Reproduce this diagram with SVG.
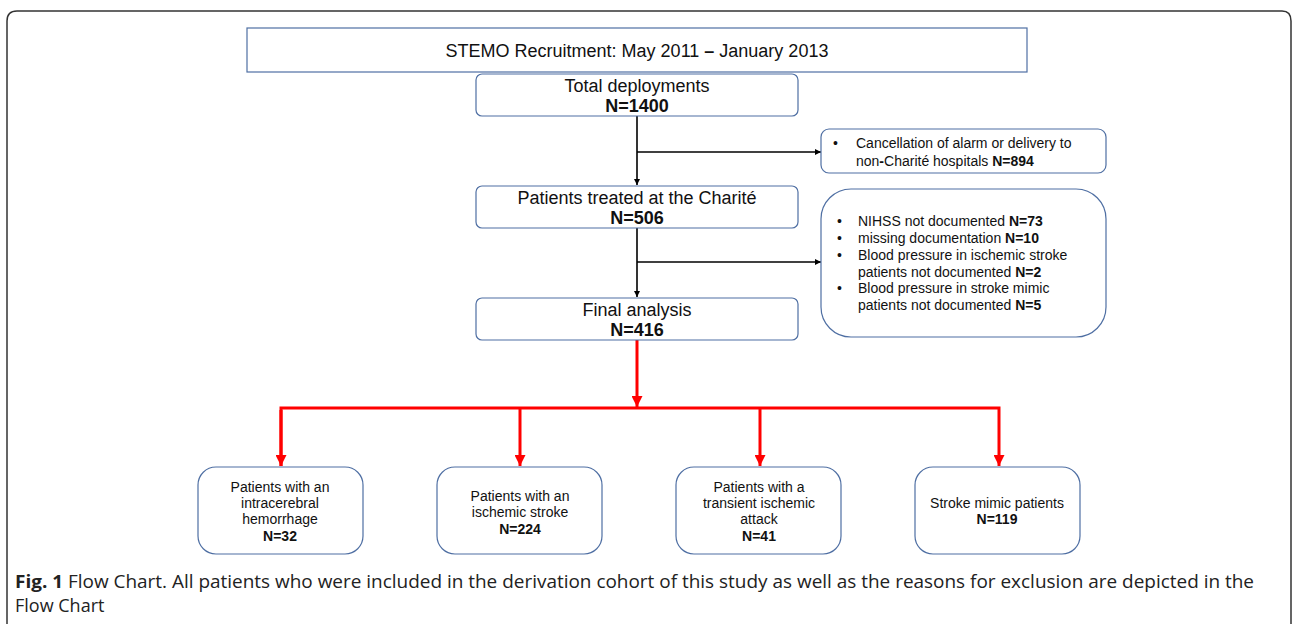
<svg xmlns="http://www.w3.org/2000/svg" width="1292" height="624" viewBox="0 0 1292 624">
<defs>
<style>
.box{fill:#fff;stroke:#4f6fa3;stroke-width:1.2}
.t{font-family:"Liberation Sans",Arial,sans-serif;fill:#111;text-anchor:middle}
.big{font-size:18px}
.sm{font-size:14px}
.b{font-weight:bold}
.lt{text-anchor:start}
.blk{stroke:#000;stroke-width:1.6;fill:none}
.red{stroke:#ff0000;stroke-width:3;fill:none}
.cap{font-family:"Open Sans","Noto Sans",sans-serif;font-size:18px;fill:#222}
</style>
<marker id="ab" viewBox="0 0 10 10" refX="10" refY="5" markerWidth="6" markerHeight="6" orient="auto" markerUnits="userSpaceOnUse"><path d="M0,0 L10,5 L0,10 z" fill="#000"/></marker>
<marker id="ar" viewBox="0 0 10 10" refX="10" refY="5" markerWidth="13" markerHeight="11" orient="auto" markerUnits="userSpaceOnUse"><path d="M0,0 L10,5 L0,10 z" fill="#ff0000"/></marker>
</defs>
<rect width="1292" height="624" fill="#fff"/>
<path d="M7,630 L7,21 Q7,11 17,11 L1282,11 Q1291,11 1291,21 L1291,630" fill="none" stroke="#333" stroke-width="1.5"/>

<g id="connectors">
<line class="blk" x1="637" y1="116" x2="637" y2="185" marker-end="url(#ab)"/>
<line class="blk" x1="637" y1="152" x2="821" y2="152" marker-end="url(#ab)"/>
<line class="blk" x1="637" y1="228" x2="637" y2="297" marker-end="url(#ab)"/>
<line class="blk" x1="637" y1="262" x2="821" y2="262" marker-end="url(#ab)"/>
<line class="red" x1="637" y1="340" x2="637" y2="407" marker-end="url(#ar)"/>
<polyline class="red" points="281,466 281,408 999,408 999,466" marker-end="url(#ar)"/>
<line class="red" x1="281" y1="410" x2="281" y2="466" marker-end="url(#ar)"/>
<line class="red" x1="520" y1="408" x2="520" y2="466" marker-end="url(#ar)"/>
<line class="red" x1="760" y1="408" x2="760" y2="466" marker-end="url(#ar)"/>
</g>

<g id="title">
<rect x="247" y="28" width="780" height="44" fill="#fff" stroke="#4f6fa3" stroke-width="1.2"/>
<text class="t" x="637" y="57" font-size="18">STEMO Recruitment: May 2011 <tspan class="b">–</tspan> January 2013</text>
</g>

<g id="total">
<rect class="box" x="476" y="74" width="322" height="42" rx="6"/>
<text class="t big" x="637" y="92">Total deployments</text>
<text class="t big b" x="637" y="112">N=1400</text>
</g>

<g id="excl1">
<rect class="box" x="821" y="129" width="285" height="44" rx="8"/>
<text class="t sm lt" x="833" y="148">•</text>
<text class="t sm lt" x="856" y="148">Cancellation of alarm or delivery to</text>
<text class="t sm lt" x="856" y="166">non<tspan class="b">-</tspan>Charité hospitals <tspan class="b">N=894</tspan></text>
</g>

<g id="treated">
<rect class="box" x="476" y="186" width="322" height="42" rx="6"/>
<text class="t big" x="637" y="204">Patients treated at the Charité</text>
<text class="t big b" x="637" y="224">N=506</text>
</g>

<g id="excl2">
<rect class="box" x="821" y="189" width="285" height="148" rx="30"/>
<text class="t sm lt" x="837" y="226">•</text>
<text class="t sm lt" x="858" y="226">NIHSS not documented <tspan class="b">N=73</tspan></text>
<text class="t sm lt" x="837" y="243">•</text>
<text class="t sm lt" x="858" y="243">missing documentation <tspan class="b">N=10</tspan></text>
<text class="t sm lt" x="837" y="260">•</text>
<text class="t sm lt" x="858" y="260">Blood pressure in ischemic stroke</text>
<text class="t sm lt" x="858" y="277">patients not documented <tspan class="b">N=2</tspan></text>
<text class="t sm lt" x="837" y="293">•</text>
<text class="t sm lt" x="858" y="293">Blood pressure in stroke mimic</text>
<text class="t sm lt" x="858" y="310">patients not documented <tspan class="b">N=5</tspan></text>
</g>

<g id="final">
<rect class="box" x="476" y="298" width="322" height="42" rx="6"/>
<text class="t big" x="637" y="316">Final analysis</text>
<text class="t big b" x="637" y="336">N=416</text>
</g>

<g id="ich">
<rect class="box" x="198" y="467" width="165" height="87" rx="18"/>
<text class="t sm" x="280" y="492">Patients with an</text>
<text class="t sm" x="280" y="508">intracerebral</text>
<text class="t sm" x="280" y="524">hemorrhage</text>
<text class="t sm b" x="280" y="541">N=32</text>
</g>

<g id="is">
<rect class="box" x="437" y="467" width="165" height="87" rx="18"/>
<text class="t sm" x="520" y="501">Patients with an</text>
<text class="t sm" x="520" y="517">ischemic stroke</text>
<text class="t sm b" x="520" y="534">N=224</text>
</g>

<g id="tia">
<rect class="box" x="676" y="467" width="165" height="87" rx="18"/>
<text class="t sm" x="759" y="492">Patients with a</text>
<text class="t sm" x="759" y="508">transient ischemic</text>
<text class="t sm" x="759" y="524">attack</text>
<text class="t sm b" x="759" y="541">N=41</text>
</g>

<g id="mimic">
<rect class="box" x="915" y="467" width="165" height="87" rx="18"/>
<text class="t sm" x="997" y="508">Stroke mimic patients</text>
<text class="t sm b" x="997" y="524">N=119</text>
</g>

<g id="caption">
<text class="cap" x="15" y="588" textLength="1239" lengthAdjust="spacingAndGlyphs"><tspan font-weight="bold">Fig. 1</tspan> Flow Chart. All patients who were included in the derivation cohort of this study as well as the reasons for exclusion are depicted in the</text>
<text class="cap" x="15" y="612">Flow Chart</text>
</g>
</svg>
